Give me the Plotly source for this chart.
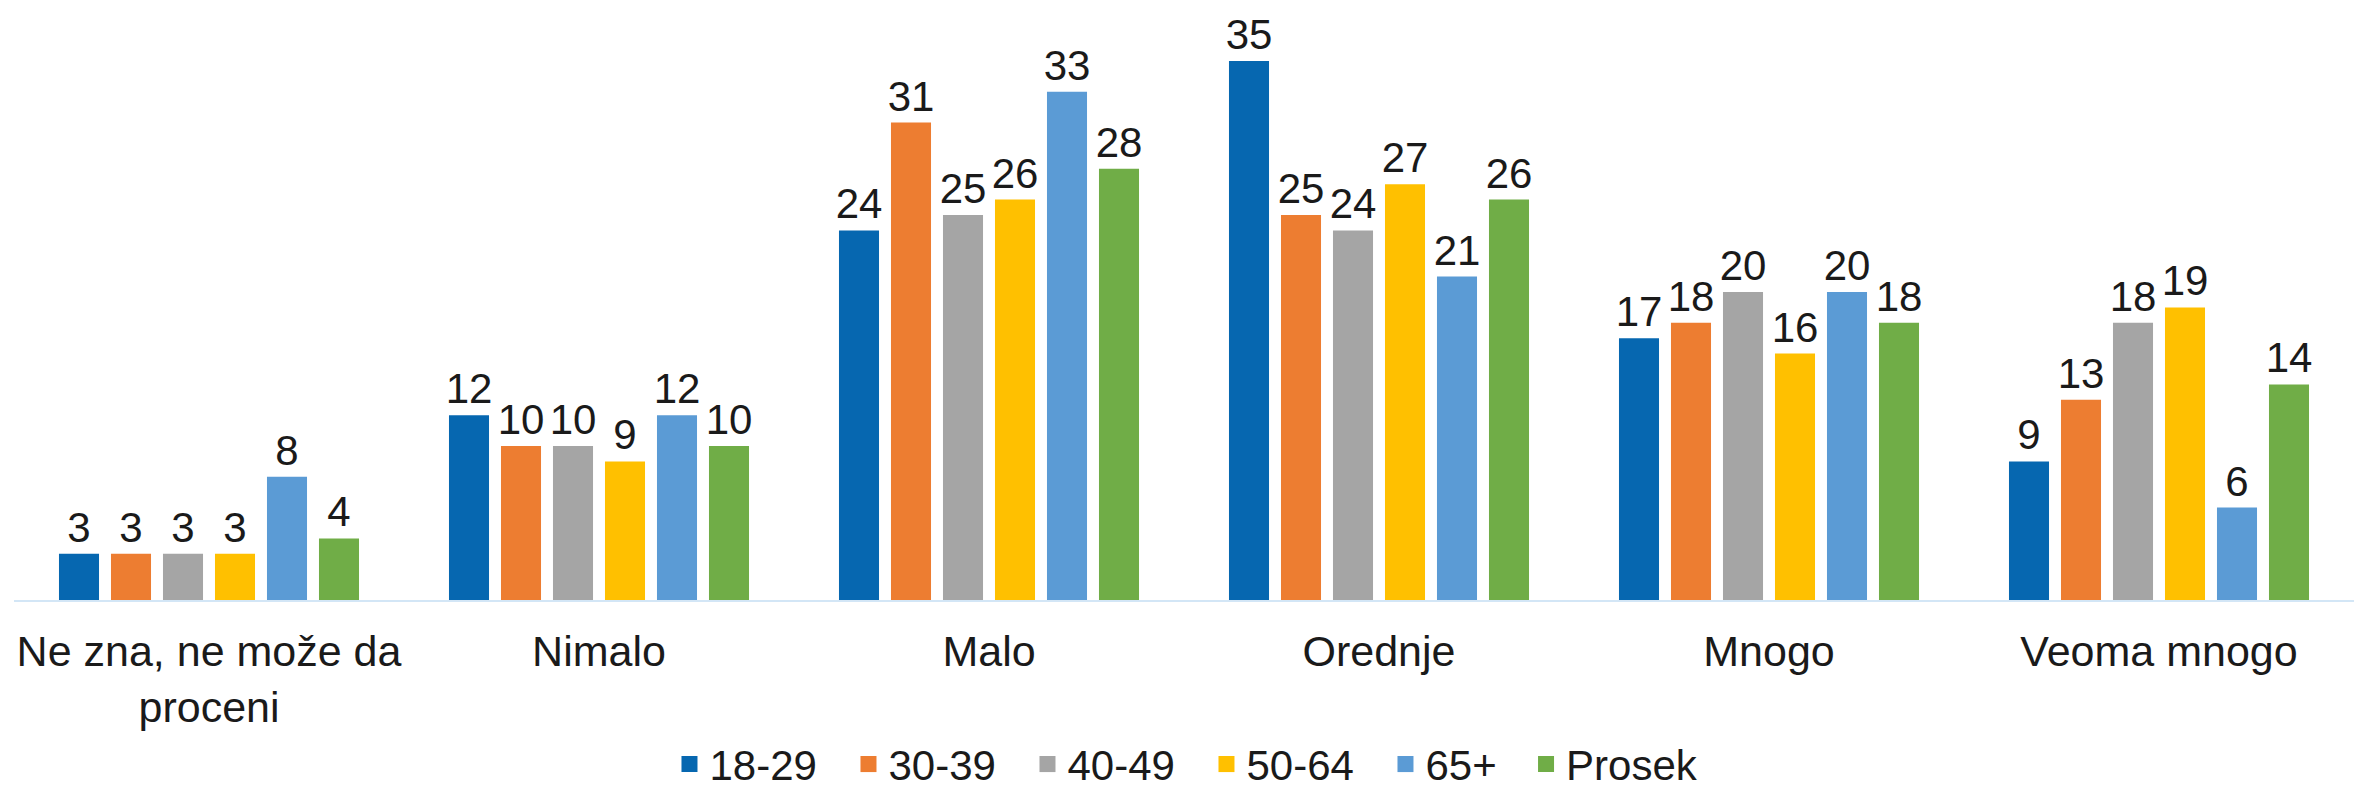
import plotly.graph_objects as go

categories = ["Ne zna, ne može da<br>proceni", "Nimalo", "Malo", "Orednje", "Mnogo", "Veoma mnogo"]
series_names = ["18-29", "30-39", "40-49", "50-64", "65+", "Prosek"]
v_18_29 = [3, 12, 24, 35, 17, 9]
v_30_39 = [3, 10, 31, 25, 18, 13]
v_40_49 = [3, 10, 25, 24, 20, 18]
v_50_64 = [3, 9, 26, 27, 16, 19]
v_65 = [8, 12, 33, 21, 20, 6]
v_prosek = [4, 10, 28, 26, 18, 14]
series_values = [v_18_29, v_30_39, v_40_49, v_50_64, v_65, v_prosek]
colors = ["#0667B0", "#ED7D31", "#A5A5A5", "#FFC000", "#5B9BD5", "#70AD47"]

FONT = "Liberation Sans, Arial, sans-serif"
TXT = "#1a1a1a"

fig = go.Figure()
for name, vals, col in zip(series_names, series_values, colors):
    fig.add_trace(go.Bar(
        x=categories, y=vals, name=name, marker=dict(color=col, line=dict(width=0)),
        text=[str(v) for v in vals], textposition="outside", constraintext="none",
        cliponaxis=False, textfont=dict(family=FONT, size=42, color=TXT),
        showlegend=False, hoverinfo="skip",
    ))
# legend proxies (square swatches); last one in its own legend for spacing
for i, (name, col) in enumerate(zip(series_names, colors)):
    fig.add_trace(go.Scatter(
        x=[None], y=[None], mode="markers", name=name,
        marker=dict(symbol="square", size=22, color=col), showlegend=True,
        legend="legend2" if i == len(series_names) - 1 else "legend",
    ))

leg_common = dict(orientation="h", xref="container", yref="container",
                  xanchor="left", y=0.035, yanchor="middle",
                  font=dict(family=FONT, size=42, color=TXT),
                  itemwidth=30, bgcolor="rgba(0,0,0,0)")

fig.update_layout(
    width=2359, height=792,
    margin=dict(l=14, r=5, t=0, b=192, autoexpand=False),
    paper_bgcolor="white", plot_bgcolor="white",
    barmode="group", bargap=0.2, bargroupgap=0.23,
    font=dict(family=FONT, size=42, color=TXT),
    showlegend=True,
    legend=dict(x=0.2838, entrywidth=134, entrywidthmode="pixels", **leg_common),
    legend2=dict(x=0.6469, **leg_common),
    xaxis=dict(showline=True, linecolor="#D3E6F6", linewidth=2, ticks="",
               tickfont=dict(family=FONT, size=43, color=TXT), ticklabelstandoff=12,
               showgrid=False, zeroline=False),
    yaxis=dict(range=[0, 38.96], visible=False, showgrid=False, zeroline=False),
)

fig.write_html("out.html", config={"displayModeBar": False},
               post_script="document.body.style.margin='0';document.body.style.padding='0';")
